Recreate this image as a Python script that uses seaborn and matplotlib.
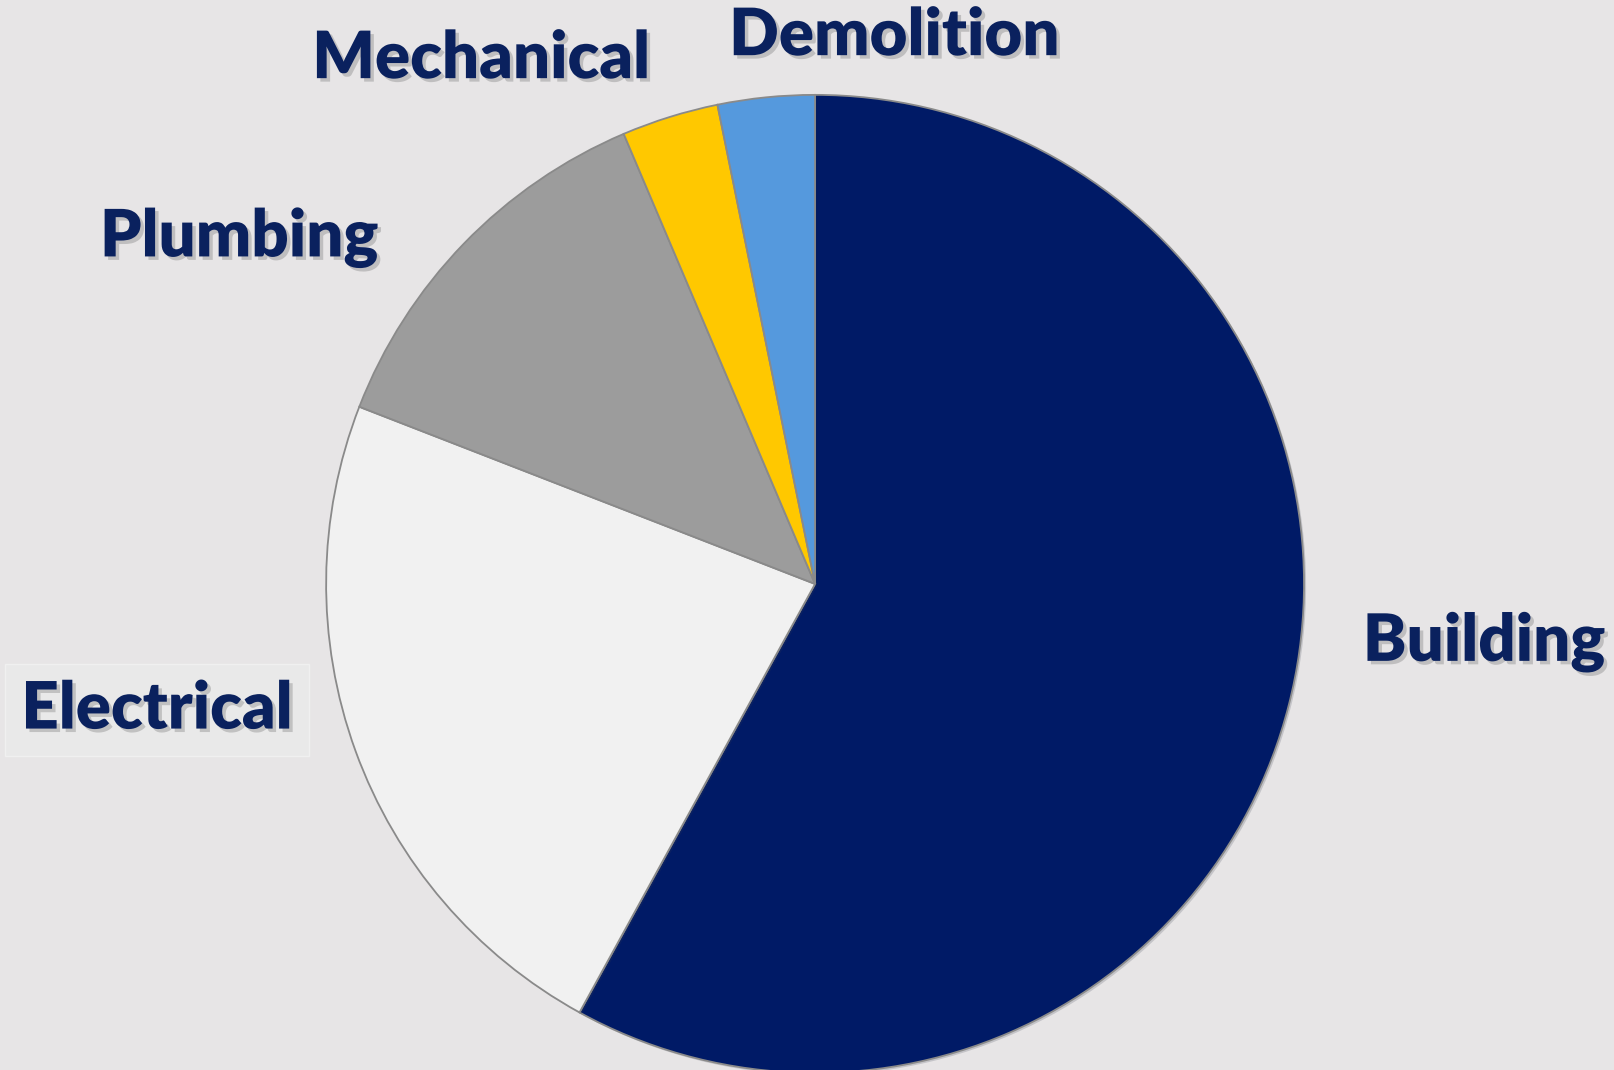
import matplotlib.pyplot as plt
import matplotlib.patheffects as pe
import seaborn as sns

# permit share by trade (clockwise from 12 o'clock)
categories = ["Building", "Electrical", "Plumbing", "Mechanical", "Demolition"]
shares = [58.0, 22.9, 12.7, 3.2, 3.2]
colors = ["#001a66", "#f1f1f1", "#9c9c9c", "#ffc800", "#5599dd"]

# label anchor points, in pie-radius units
label_x = [1.368, -1.346, -1.178, -0.683, 0.162]
label_y = [-0.121, -0.258, 0.706, 1.072, 1.119]

BG = "#e7e5e6"
NAVY = "#0a215e"

sns.set_theme(style="white")
plt.rcParams["font.family"] = ["Lato", "DejaVu Sans"]

fig = plt.figure(figsize=(16.14, 10.70), dpi=100, facecolor=BG)
ax = fig.add_axes([0, 0, 1, 1])
ax.set_facecolor(BG)

wedges, _ = ax.pie(
    shares,
    colors=colors,
    startangle=90,
    counterclock=False,
    radius=1.0,
    wedgeprops=dict(edgecolor="#8a8a8a", linewidth=1.3,
                    path_effects=[pe.SimplePatchShadow(offset=(1.5, -1.5), alpha=0.15), pe.Normal()]),
)

shadow = [pe.SimplePatchShadow(offset=(2.5, -2.5), shadow_rgbFace="#777777", alpha=0.35), pe.Normal()]
for name, x, y in zip(categories, label_x, label_y):
    kw = {}
    if name == "Electrical":
        kw["bbox"] = dict(boxstyle="square,pad=0.25", facecolor="#e9e9e9", edgecolor="#f0f0f0", linewidth=1)
    t = ax.text(x, y, name, ha="center", va="center", fontsize=47, fontweight="heavy",
                color=NAVY, **kw)
    t.set_path_effects(shadow)

ax.set_aspect("auto")
ax.set_xlim(-1.667, 1.634)
ax.set_ylim(-0.994, 1.194)
ax.axis("off")

fig.savefig("out.png", dpi=100, facecolor=BG)
